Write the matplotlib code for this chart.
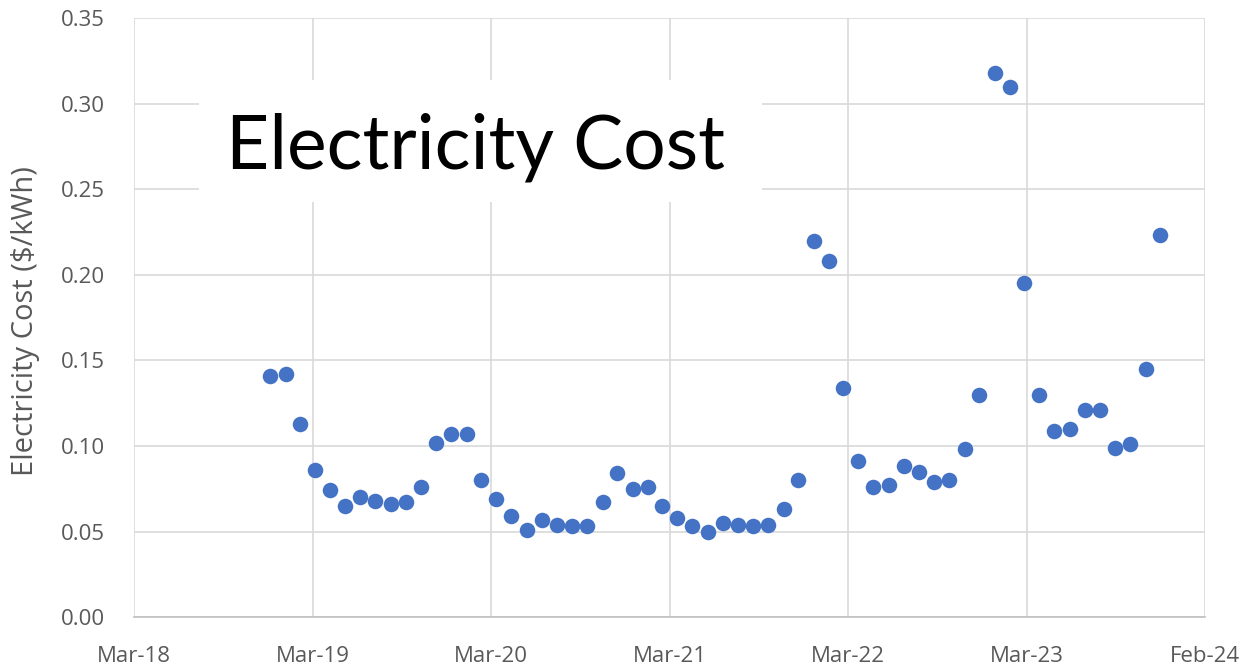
import datetime as dt
import matplotlib
matplotlib.use("Agg")
import matplotlib.pyplot as plt
import matplotlib.dates as mdates
from matplotlib.patches import Rectangle
import pandas as pd

# monthly readings, Dec 2018 .. Nov 2023 (month-end dates)
months = pd.date_range("2018-12-31", periods=60, freq="ME")
cost = [
    0.141, 0.142, 0.113, 0.086, 0.074, 0.065, 0.070, 0.068, 0.066, 0.067, 0.076, 0.102,  # Dec-18 .. Nov-19
    0.107, 0.107, 0.080, 0.069, 0.059, 0.051, 0.057, 0.054, 0.053, 0.053, 0.067, 0.084,  # Dec-19 .. Nov-20
    0.075, 0.076, 0.065, 0.058, 0.053, 0.050, 0.055, 0.054, 0.053, 0.054, 0.063, 0.080,  # Dec-20 .. Nov-21
    0.220, 0.208, 0.134, 0.091, 0.076, 0.077, 0.088, 0.085, 0.079, 0.080, 0.098, 0.130,  # Dec-21 .. Nov-22
    0.318, 0.310, 0.195, 0.130, 0.109, 0.110, 0.121, 0.121, 0.099, 0.101, 0.145, 0.223,  # Dec-22 .. Nov-23
]

axis_start = dt.date(2018, 3, 31)
tick_step_days = 360
n_ticks = 7

gray_text = "#595959"
grid_col = "#d9d9d9"

fig = plt.figure(figsize=(12.5, 6.7), dpi=100)
ax = fig.add_axes([0.1072, 0.079, 0.8568, 0.894])

ax.scatter(months, cost, s=125, color="#4472C4", zorder=3, linewidths=0)

ticks = [axis_start + dt.timedelta(days=tick_step_days * k) for k in range(n_ticks)]
ax.set_xlim(ticks[0], ticks[-1])
ax.set_xticks(ticks)
ax.xaxis.set_major_formatter(mdates.DateFormatter("%b-%y"))
ax.set_ylim(0, 0.35)
ax.set_yticks([0.05 * i for i in range(8)])
ax.set_yticklabels([f"{0.05 * i:.2f}" for i in range(8)])

ax.grid(True, color=grid_col, linewidth=1.2, zorder=0)
ax.set_axisbelow(True)
for side in ["top", "right", "left"]:
    ax.spines[side].set_visible(False)
ax.spines["bottom"].set_color("#bfbfbf")
ax.spines["bottom"].set_linewidth(1.2)

ax.tick_params(axis="both", length=0, labelsize=16, labelcolor=gray_text)
ax.tick_params(axis="x", pad=21)
ax.tick_params(axis="y", pad=21)
for lbl in ax.get_xticklabels() + ax.get_yticklabels():
    lbl.set_fontfamily("Open Sans")

ax.set_ylabel("Electricity Cost ($/kWh)", fontsize=21, color=gray_text,
              fontfamily="Open Sans", labelpad=2)
ax.yaxis.set_label_coords(-0.088, 0.495)

# white title box over the grid
fig.patches.append(Rectangle((199 / 1250, 1 - 202 / 670), 563 / 1250, 122 / 670,
                             transform=fig.transFigure, facecolor="white",
                             edgecolor="none", zorder=5))
fig.text(475 / 1250, 1 - 147 / 670, "Electricity Cost", fontsize=54,
         fontfamily="Lato", color="black", ha="center", va="center", zorder=6)

fig.savefig("out.png", dpi=100)
